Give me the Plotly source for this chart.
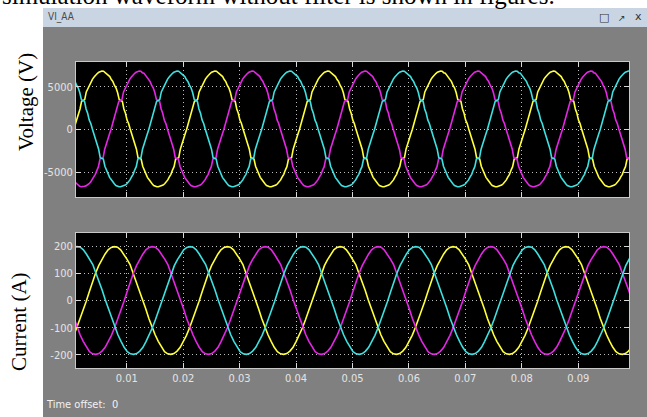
import plotly.graph_objects as go

W, H = 647, 417

# ---------------- data ----------------
TIME_TICKS = [0.01, 0.02, 0.03, 0.04, 0.05, 0.06, 0.07, 0.08, 0.09]
TIME_TICK_TEXT = ["0.01", "0.02", "0.03", "0.04", "0.05", "0.06", "0.07", "0.08", "0.09"]
VOLT_TICKS = [-5000, 0, 5000]
VOLT_TICK_TEXT = ["-5000", "0", "5000"]
CURR_TICKS = [-200, -100, 0, 100, 200]
CURR_TICK_TEXT = ["-200", "-100", "0", "100", "200"]

PERIOD = 0.02  # 50 Hz

# one cycle of the phase voltage, starting at its peak, one sample every 5 degrees (V)
VOLT_CYCLE = [
    6850, 6820, 6650, 6600, 6350, 6200, 5850, 5600, 5150, 4850, 4300, 3500,
    3400, 3300, 2400, 1900, 1100, 700, 50, -600, -1100, -1800, -2300, -3300,
    -3400, -3450, -4300, -4800, -5200, -5600, -5850, -6150, -6350, -6550, -6650, -6700,
    -6700, -6650, -6600, -6500, -6350, -6150, -5900, -5550, -5250, -4750, -4350, -3450,
    -3400, -3300, -2300, -1800, -1200, -550, 0, 650, 1200, 1750, 2400, 3300,
    3400, 3500, 4400, 4800, 5250, 5550, 5900, 6150, 6400, 6550, 6700, 6800,
]
# one cycle of the phase current, starting at its peak, one sample every 10 degrees (A)
CURR_CYCLE = [
    198, 196, 186, 170, 152, 132, 100, 72, 38, 2, -30, -66,
    -100, -126, -150, -172, -188, -196, -198, -195, -186, -172, -150, -128,
    -100, -70, -36, -4, 32, 68, 100, 128, 150, 170, 186, 195,
]

PHASES = ["yellow", "magenta", "cyan"]
PHASE_COLORS = {"yellow": "#ffff3c", "magenta": "#e626e6", "cyan": "#3ee0e0"}
VOLT_PEAK_T = {"yellow": 0.0056, "magenta": 0.0122, "cyan": 0.0189}
CURR_PEAK_T = {"yellow": 0.0078, "magenta": 0.0145, "cyan": 0.0212}

T_RANGE = [0.001, 0.099]
V_RANGE = [-7900, 7900]
I_RANGE = [-248, 248]


def tiled(cycle, t_peak):
    n = len(cycle)
    dt = PERIOD / n
    k = int((0.0 - t_peak) / dt) - 1
    ts, vs = [], []
    while True:
        t = t_peak + k * dt
        if t > 0.1:
            break
        ts.append(t)
        vs.append(cycle[k % n])
        k += 1
    return ts, vs


def px(x):
    return x / W


def py(y):
    return 1 - y / H


fig = go.Figure()
for ph in PHASES:
    t, v = tiled(VOLT_CYCLE, VOLT_PEAK_T[ph])
    fig.add_trace(go.Scatter(x=t, y=v, mode="lines", xaxis="x", yaxis="y",
                             line=dict(color=PHASE_COLORS[ph], width=1.6), showlegend=False))
for ph in PHASES:
    t, v = tiled(CURR_CYCLE, CURR_PEAK_T[ph])
    fig.add_trace(go.Scatter(x=t, y=v, mode="lines", xaxis="x2", yaxis="y2",
                             line=dict(color=PHASE_COLORS[ph], width=1.6), showlegend=False))

TICKFONT = dict(family="Liberation Sans Narrow, DejaVu Sans Condensed, Arial Narrow, sans-serif",
                size=11, color="#e4e4e4")
axis_common = dict(ticks="inside", ticklen=5, tickcolor="#d8d8d8", tickwidth=1,
                   showline=True, linecolor="#c8c8c8", linewidth=1, mirror="ticks",
                   showgrid=True, gridcolor="#bdbdbd", griddash="1px,3px", gridwidth=1,
                   zeroline=False, tickfont=TICKFONT, fixedrange=True)

xdom = [px(76), px(629)]
fig.update_layout(
    width=W, height=H,
    margin=dict(l=0, r=0, t=0, b=0),
    paper_bgcolor="#808080",
    plot_bgcolor="#000000",
    xaxis=dict(domain=xdom, range=T_RANGE, anchor="y", tickvals=TIME_TICKS,
               showticklabels=False, **axis_common),
    yaxis=dict(domain=[py(197), py(62)], range=V_RANGE, anchor="x",
               tickvals=VOLT_TICKS, ticktext=VOLT_TICK_TEXT, **axis_common),
    xaxis2=dict(domain=xdom, range=T_RANGE, anchor="y2", tickvals=TIME_TICKS,
                ticktext=TIME_TICK_TEXT, **axis_common),
    yaxis2=dict(domain=[py(368), py(233)], range=I_RANGE, anchor="x2",
                tickvals=CURR_TICKS, ticktext=CURR_TICK_TEXT, **axis_common),
    shapes=[
        dict(type="rect", xref="paper", yref="paper", x0=0, x1=px(43), y0=0, y1=1,
             fillcolor="#ffffff", line=dict(width=0), layer="below"),
        dict(type="rect", xref="paper", yref="paper", x0=0, x1=1, y0=py(8), y1=1,
             fillcolor="#ffffff", line=dict(width=0), layer="below"),
        dict(type="rect", xref="paper", yref="paper", x0=px(43), x1=1, y0=py(27), y1=py(8),
             fillcolor="#c9d5e2", line=dict(width=0), layer="below"),
    ],
    annotations=[
        dict(text="simulation waveform without filter is shown in figures.",
             xref="paper", yref="paper", x=0, y=py(11), xanchor="left", yanchor="bottom",
             showarrow=False, font=dict(family="Liberation Serif, Times New Roman, serif",
                                        size=25, color="#000000")),
        dict(text="VI_AA", xref="paper", yref="paper", x=px(46), y=py(17),
             xanchor="left", yanchor="middle", showarrow=False,
             font=dict(family="Liberation Sans Narrow, DejaVu Sans Condensed, sans-serif",
                       size=10, color="#4a4a4a")),
        dict(text="□", xref="paper", yref="paper", x=px(604), y=py(18),
             xanchor="center", yanchor="middle", showarrow=False,
             font=dict(family="DejaVu Sans", size=11, color="#333333")),
        dict(text="↗", xref="paper", yref="paper", x=px(622), y=py(18),
             xanchor="center", yanchor="middle", showarrow=False,
             font=dict(family="DejaVu Sans", size=9, color="#333333")),
        dict(text="x", xref="paper", yref="paper", x=px(638), y=py(17),
             xanchor="center", yanchor="middle", showarrow=False,
             font=dict(family="DejaVu Sans", size=11, color="#333333")),
        dict(text="Voltage (V)", xref="paper", yref="paper", x=px(26), y=py(102),
             xanchor="center", yanchor="middle", textangle=-90, showarrow=False,
             font=dict(family="Liberation Serif, Times New Roman, serif", size=21, color="#000000")),
        dict(text="Current (A)", xref="paper", yref="paper", x=px(19), y=py(322),
             xanchor="center", yanchor="middle", textangle=-90, showarrow=False,
             font=dict(family="Liberation Serif, Times New Roman, serif", size=21, color="#000000")),
        dict(text="Time offset:&nbsp;&nbsp;0", xref="paper", yref="paper", x=px(44), y=py(404),
             xanchor="left", yanchor="middle", showarrow=False,
             font=dict(family="Liberation Sans Narrow, DejaVu Sans Condensed, sans-serif",
                       size=11, color="#f2f2f2")),
    ],
)

fig.write_html("out.html", config={"displayModeBar": False, "staticPlot": True},
               post_script="document.body.style.margin='0';document.body.style.padding='0';document.body.style.overflow='hidden';")
